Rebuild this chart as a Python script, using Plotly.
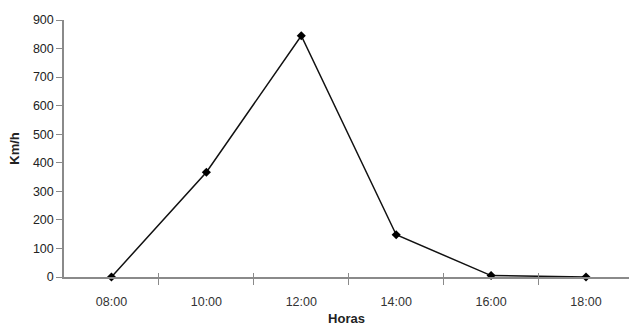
import plotly.graph_objects as go

horas = ["08:00", "10:00", "12:00", "14:00", "16:00", "18:00"]
velocidad = [0, 367, 845, 148, 5, 0]
y_ticks = [0, 100, 200, 300, 400, 500, 600, 700, 800, 900]

xpos = list(range(len(horas)))
between = [i + 0.5 for i in range(len(horas) - 1)]

fig = go.Figure()
fig.add_trace(go.Scatter(
    x=xpos, y=velocidad, mode="lines+markers",
    line=dict(color="#111111", width=1.5),
    marker=dict(symbol="diamond", size=7, color="#000000"),
    showlegend=False, cliponaxis=False,
))

axis_col = "#8a8a8a"
font_fam = "Liberation Sans, Arial, sans-serif"
xr = [-0.5, 5.453]

fig.update_layout(
    width=629, height=328,
    margin=dict(l=64, r=0, t=20, b=51),
    paper_bgcolor="white", plot_bgcolor="white",
    font=dict(family=font_fam, size=12, color="#222222"),
    xaxis=dict(
        range=xr, tickvals=xpos, ticktext=horas,
        ticks="outside", ticklen=12, tickcolor="rgba(0,0,0,0)",
        showline=True, linecolor=axis_col, linewidth=1.5,
        showgrid=False, zeroline=False,
        title=dict(text="<b>Horas</b>", font=dict(size=13, color="#222222"), standoff=6),
        tickfont=dict(size=12.5, color="#333333"),
    ),
    xaxis2=dict(
        range=xr, overlaying="x", side="bottom", anchor="y",
        tickvals=between, ticks="outside", ticklen=7, tickcolor=axis_col, tickwidth=1.2,
        showticklabels=False, showgrid=False, zeroline=False, showline=False,
    ),
    xaxis3=dict(
        range=xr, overlaying="x", side="bottom", anchor="y",
        tickvals=between, ticks="inside", ticklen=4, tickcolor=axis_col, tickwidth=1.2,
        showticklabels=False, showgrid=False, zeroline=False, showline=False,
    ),
    yaxis=dict(
        range=[0, 900], tickvals=y_ticks, ticks="outside", ticklen=6,
        tickcolor=axis_col, tickwidth=1.2,
        showline=True, linecolor=axis_col, linewidth=1.5,
        showgrid=False, zeroline=False,
        title=dict(text="<b>Km/h</b>", font=dict(size=13, color="#222222"), standoff=10),
        tickfont=dict(size=12.5, color="#222222"),
    ),
)
# invisible traces to activate the overlay axes
fig.add_trace(go.Scatter(x=[None], y=[None], xaxis="x2", showlegend=False, hoverinfo="skip"))
fig.add_trace(go.Scatter(x=[None], y=[None], xaxis="x3", showlegend=False, hoverinfo="skip"))

fig.write_html("out.html")
